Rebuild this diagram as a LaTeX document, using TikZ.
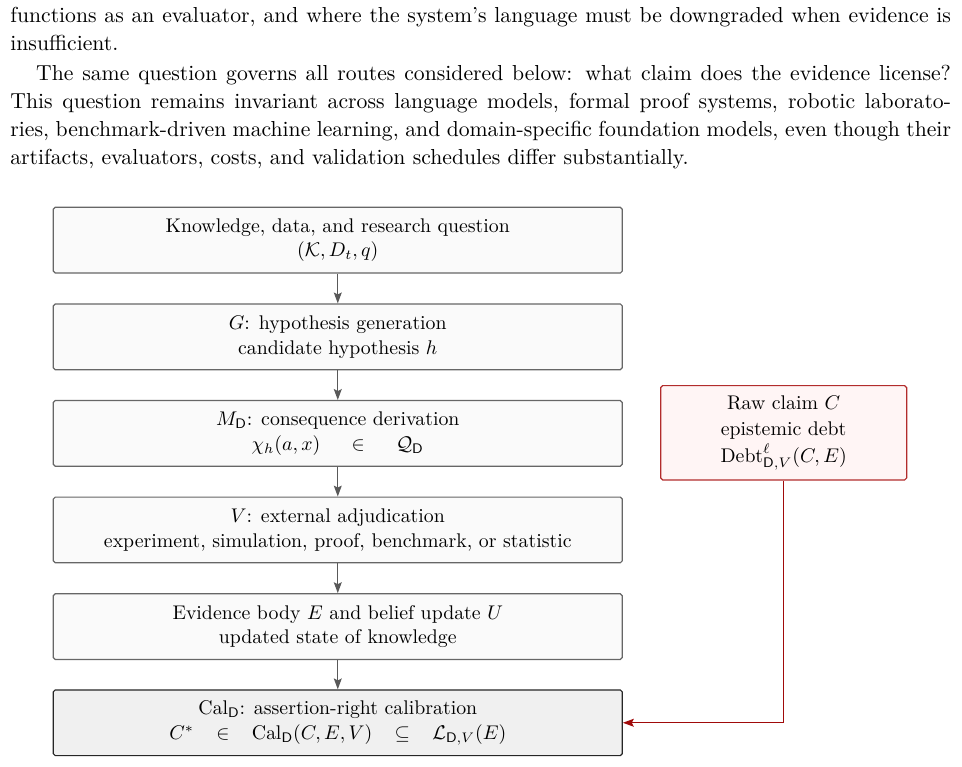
\documentclass[tikz,border=0pt]{standalone}
\usepackage{amsmath}
\usepackage{amssymb}
\usetikzlibrary{positioning, calc, arrows.meta}

\definecolor{debtred}{RGB}{178,44,44}
\definecolor{arrowred}{RGB}{160,10,10}

\begin{document}
\begin{tikzpicture}[scale=1.0,
    stage/.style={draw=black!60, fill=black!2, rounded corners=1pt, line width=0.6pt,
        minimum width=10.1cm, minimum height=1.166cm, align=center, inner sep=2pt,
        font=\fontsize{10}{12.5}\selectfont},
    calbox/.style={stage, draw=black!85, fill=black!6},
    debtbox/.style={stage, draw=debtred, fill=red!4, minimum width=4.366cm, minimum height=1.674cm,
        font=\fontsize{10}{13.3}\selectfont},
    flow/.style={-{Stealth[length=5.5pt, width=4pt, inset=1pt]}, line width=0.6pt, black!65},
    debtflow/.style={flow, arrowred}]

    \useasboundingbox (0,0) rectangle (17.074,-13.613);

    % running text above the figure
    \node[anchor=north west, inner sep=0pt, text width=475pt, align=justify,
        font=\fontsize{10.95}{14.1}\selectfont] (body) at (0.1775,-0.12) {%
        \setlength{\parskip}{1pt}%
        functions as an evaluator, and where the system's language must be downgraded when evidence is\linebreak
        insufficient.\par
        \hspace*{13pt}The same question governs all routes considered below: what claim does the evidence license?\linebreak
        This question remains invariant across language models, formal proof systems, robotic laborato-\linebreak
        ries, benchmark-driven machine learning, and domain-specific foundation models, even though their\linebreak
        artifacts, evaluators, costs, and validation schedules differ substantially.};

    % knowledge and question
    \node[stage] (know) at (5.995,-4.263)
        {Knowledge, data, and research question\\ $(\mathcal{K}, D_t, q)$};

    % hypothesis generation
    \node[stage] (gen) at (5.995,-5.978)
        {$G$: hypothesis generation\\ candidate hypothesis $h$};

    % consequence derivation
    \node[stage] (derive) at (5.995,-7.692)
        {$M_{\mathsf{D}}$: consequence derivation\\
         $\chi_h(a,x) \hspace{1.3em}\in\hspace{1.3em} \mathcal{Q}_{\mathsf{D}}$};

    % adjudication
    \node[stage] (judge) at (5.995,-9.406)
        {$V$: external adjudication\\ experiment, simulation, proof, benchmark, or statistic};

    % evidence and update
    \node[stage] (evid) at (5.995,-11.121)
        {Evidence body $E$ and belief update $U$\\ updated state of knowledge};

    % calibration
    \node[calbox] (cal) at (5.995,-12.828)
        {$\mathrm{Cal}_{\mathsf{D}}$: assertion-right calibration\\
         $C^{*} \hspace{0.85em}\in\hspace{0.85em} \mathrm{Cal}_{\mathsf{D}}(C,E,V)
          \hspace{0.85em}\subseteq\hspace{0.85em} \mathcal{L}_{\mathsf{D},V}(E)$};

    % raw claim and debt
    \node[debtbox] (raw) at (13.909,-7.681)
        {Raw claim $C$\\ epistemic debt\\ $\mathrm{Debt}^{\ell}_{\mathsf{D},V}(C,E)$};

    % main chain
    \draw[flow] (know) -- (gen);
    \draw[flow] (gen) -- (derive);
    \draw[flow] (derive) -- (judge);
    \draw[flow] (judge) -- (evid);
    \draw[flow] (evid) -- (cal);

    % debt feeds calibration
    \draw[debtflow] (raw.south) |- (cal.east);

\end{tikzpicture}
\end{document}
